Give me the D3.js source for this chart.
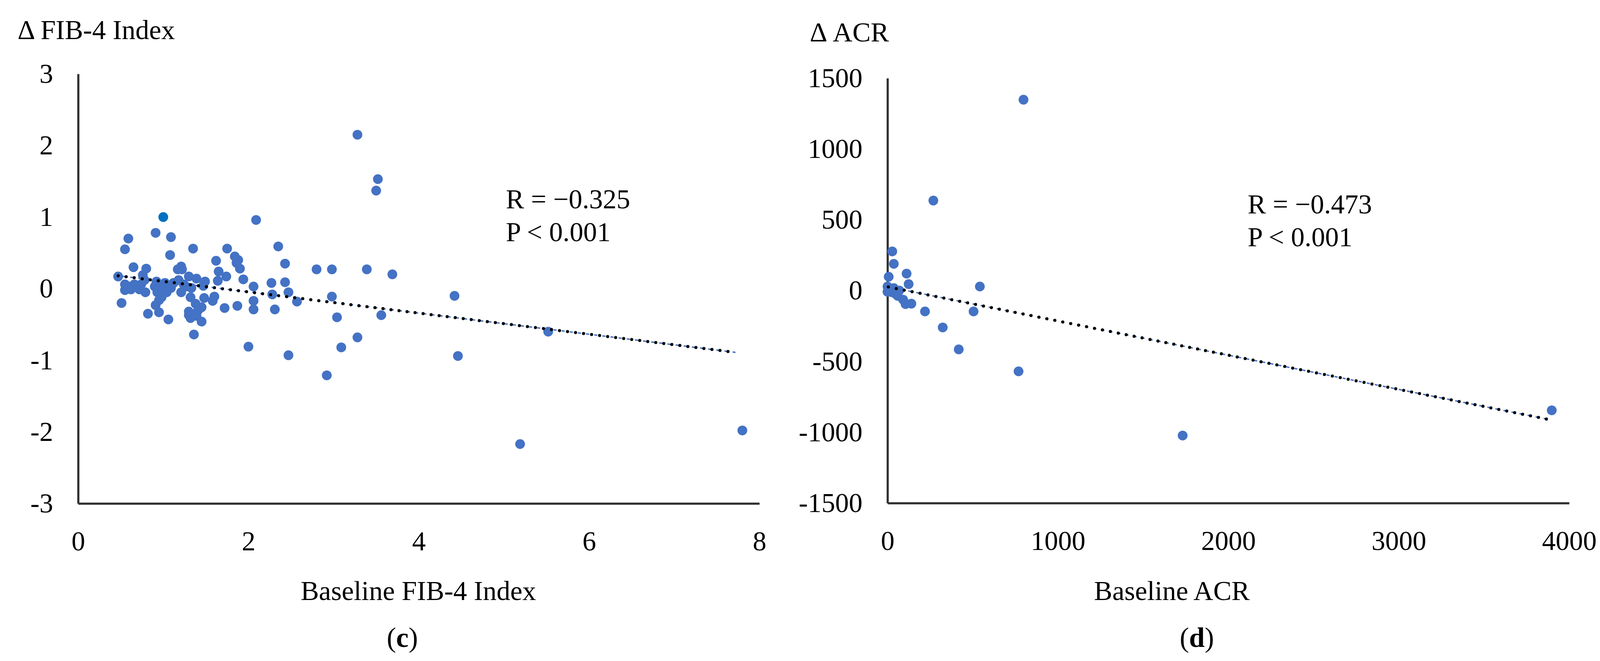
<!DOCTYPE html>
<html>
<head>
<meta charset="utf-8">
<script src="https://cdn.jsdelivr.net/npm/d3@7"></script>
<style>
  html, body { margin: 0; padding: 0; background: #fff; }
  text { font-family: "Liberation Serif", "Times New Roman", serif; fill: #000; }
</style>
</head>
<body>
<svg id="grafico"></svg>
<script>
// ---- dados ----
// (c) FIB-4
const fibBase = [0.47,0.51,0.55,0.59,0.65,0.80,0.76,0.91,1.09,1.08,1.35,1.75,1.62,1.84,1.88,1.86,1.90,1.17,1.21,1.22,
  1.65,1.64,1.74,1.94,2.06,2.06,2.06,2.00,2.09,0.82,0.91,0.95,1.06,1.36,1.72,1.87,1.60,1.58,1.45,1.32,
  1.38,1.45,1.30,1.30,1.39,1.48,1.41,1.32,1.21,1.30,1.39,1.49,1.27,1.33,1.47,0.55,0.55,0.62,0.69,0.74,
  0.78,0.79,0.72,0.60,0.66,0.92,0.96,0.93,0.98,1.04,1.09,1.12,1.02,0.90,0.95,0.99,1.05,1.18,1.24,2.35,
  2.43,2.80,2.98,3.39,3.69,2.27,2.43,2.28,2.47,2.57,2.31,2.98,3.04,3.56,3.28,3.09,2.47,2.92,3.28,3.52,
  3.50,4.42,4.46,5.52,5.19,7.80];
const fibDelta = [0.17,-0.20,0.55,0.70,0.30,0.28,0.19,0.78,0.72,0.47,0.56,0.56,0.39,0.45,0.40,0.36,0.28,0.27,0.31,0.27,
  0.24,0.11,0.17,0.13,0.03,-0.17,-0.29,-0.81,0.96,-0.35,-0.23,-0.33,-0.43,-0.64,-0.27,-0.24,-0.11,-0.17,-0.46,-0.12,
  -0.21,-0.26,-0.32,-0.37,-0.38,-0.13,-0.30,-0.41,-0.05,0.17,0.14,0.10,0.03,0.01,0.04,0.06,-0.02,-0.01,0.03,0.06,
  0.12,-0.05,-0.01,0.03,0.06,0.10,0.03,-0.05,-0.12,-0.05,0.01,0.08,0.08,0.03,-0.16,0.00,0.04,0.12,0.06,0.59,
  0.35,0.27,0.27,0.27,0.20,0.08,0.09,-0.08,-0.05,-0.18,-0.29,-0.11,-0.40,-0.37,-0.68,-0.82,-0.93,-1.21,2.15,1.53,
  1.37,-0.10,-0.94,-0.60,-2.17,-1.98];
const fibDestaque = [[1.00, 1.00]];           // ponto com tom diferente
const fibTendencia = [[0.47, 0.18], [7.72, -0.89]];
const fibTicksX = [0, 2, 4, 6, 8];
const fibTicksY = [-3, -2, -1, 0, 1, 2, 3];

// (d) ACR
const acrBase = [28,37,7,112,124,0,0,37,69,60,92,106,140,220,324,542,505,23,43,798,269,418,769,1732,3898];
const acrDelta = [277,189,98,120,46,29,-8,18,1,-37,-64,-95,-92,-147,-260,29,-147,-10,-20,1348,636,-415,-570,-1023,-845];
const acrTendencia = [[5, 26], [3877, -909]];
const acrTicksX = [0, 1000, 2000, 3000, 4000];
const acrTicksY = [-1500, -1000, -500, 0, 500, 1000, 1500];

const LARGURA = 4117, ALTURA = 1691;
const AZUL = '#4472C4';

let svg = d3.select('#grafico')
  .attr('width', LARGURA)
  .attr('height', ALTURA);

function painel(p) {
  let fnX = d3.scaleLinear().domain(p.dominioX).range([p.x0, p.x1]);
  let fnY = d3.scaleLinear().domain(p.dominioY).range([p.y1, p.y0]);
  let g = svg.append('g');

  let eixoY = d3.axisLeft(fnY).tickValues(p.ticksY).tickSize(0).tickPadding(64)
    .tickFormat(d => String(d));
  g.append('g').attr('transform', 'translate(' + p.x0 + ',0)').call(eixoY);

  let eixoX = d3.axisBottom(fnX).tickValues(p.ticksX).tickSize(0).tickPadding(70)
    .tickFormat(d => String(d));
  g.append('g').attr('transform', 'translate(0,' + p.y1 + ')').call(eixoX);

  g.selectAll('.domain').attr('stroke', '#303030').attr('stroke-width', 5.5);
  g.selectAll('.tick text').attr('font-size', 70).attr('font-family', '"Liberation Serif", serif').attr('fill', '#000');

  // pontos
  let dados = p.xs.map((v, i) => ({x: v, y: p.ys[i]}));
  g.selectAll('.ponto').data(dados).enter().append('circle')
    .classed('ponto', true)
    .attr('cx', d => fnX(d.x))
    .attr('cy', d => fnY(d.y))
    .attr('r', 12.5)
    .attr('fill', AZUL);
  if (p.destaque) {
    g.selectAll('.destaque').data(p.destaque).enter().append('circle')
      .classed('destaque', true)
      .attr('cx', d => fnX(d[0]))
      .attr('cy', d => fnY(d[1]))
      .attr('r', 12.5)
      .attr('fill', '#0070C0');
  }

  // linha de tendencia pontilhada
  let linha = d3.line().x(d => fnX(d[0])).y(d => fnY(d[1]));
  g.append('path').attr('d', linha(p.tendencia))
    .attr('fill', 'none').attr('stroke', AZUL).attr('stroke-width', 3.5)
    .attr('stroke-dasharray', '8 13').attr('stroke-dashoffset', -10);
  g.append('path').attr('d', linha(p.tendencia))
    .attr('fill', 'none').attr('stroke', '#000').attr('stroke-width', 8)
    .attr('stroke-linecap', 'round').attr('stroke-dasharray', '0 20.7');

  // textos
  g.append('text').attr('x', p.tituloX).attr('y', p.tituloY)
    .attr('font-size', 70).text(p.titulo);
  g.append('text').attr('x', p.rotuloX).attr('y', 1535)
    .attr('font-size', 70).attr('text-anchor', 'middle').text(p.rotulo);
  g.append('text').attr('x', p.rX).attr('y', p.rY)
    .attr('font-size', 70).text(p.textoR);
  g.append('text').attr('x', p.rX).attr('y', p.rY + 84)
    .attr('font-size', 70).text('P < 0.001');
  let letra = g.append('text').attr('x', p.letraX).attr('y', 1655)
    .attr('font-size', 72).attr('text-anchor', 'middle');
  letra.append('tspan').text('(');
  letra.append('tspan').attr('font-weight', 'bold').text(p.letra);
  letra.append('tspan').text(')');
}

painel({
  dominioX: [0, 8], dominioY: [-3, 3],
  x0: 200, x1: 1944, y0: 189, y1: 1288,
  ticksX: fibTicksX, ticksY: fibTicksY,
  xs: fibBase, ys: fibDelta, destaque: fibDestaque,
  tendencia: fibTendencia,
  titulo: '\u0394 FIB-4 Index', tituloX: 45, tituloY: 100,
  rotulo: 'Baseline FIB-4 Index', rotuloX: 1071,
  textoR: 'R = \u22120.325', rX: 1295, rY: 533,
  letra: 'c', letraX: 1030
});

painel({
  dominioX: [0, 4000], dominioY: [-1500, 1500],
  x0: 2272, x1: 4017, y0: 200, y1: 1287,
  ticksX: acrTicksX, ticksY: acrTicksY,
  xs: acrBase, ys: acrDelta,
  tendencia: acrTendencia,
  titulo: '\u0394 ACR', tituloX: 2073, tituloY: 106,
  rotulo: 'Baseline ACR', rotuloX: 3000,
  textoR: 'R = \u22120.473', rX: 3194, rY: 546,
  letra: 'd', letraX: 3064
});
</script>
</body>
</html>
